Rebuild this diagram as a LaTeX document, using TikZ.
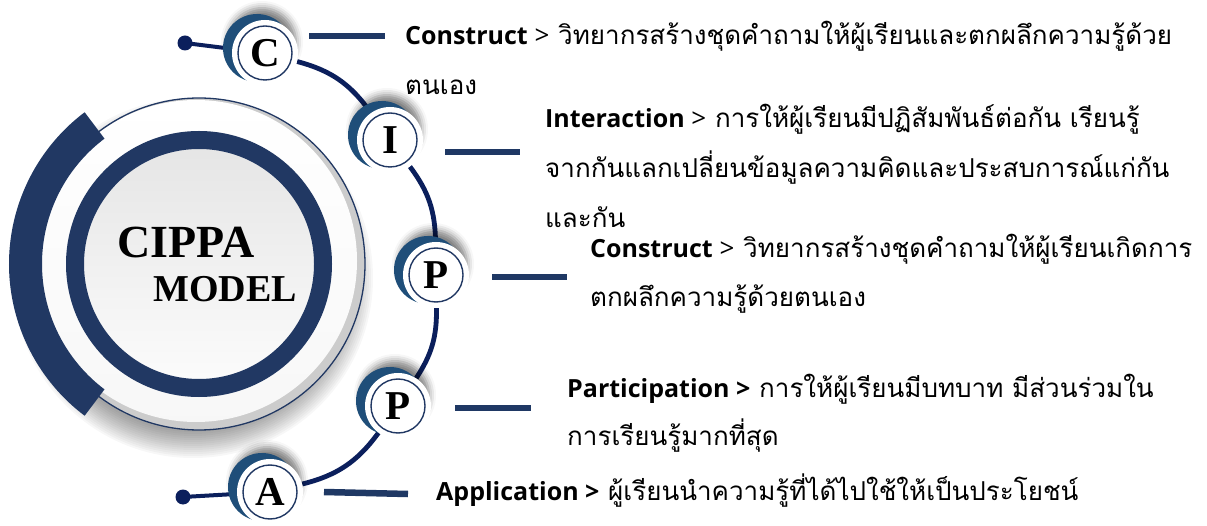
\documentclass[tikz,border=0pt]{standalone}
\usepackage{fontspec}
\setmainfont{Liberation Serif}
\newfontfamily\thai[Script=Thai]{Loma}
\newfontfamily\lat{Open Sans}
\usetikzlibrary{shadows.blur,calc}
\definecolor{navy}{HTML}{213863}
\definecolor{cres}{HTML}{1F4E79}
\definecolor{connc}{HTML}{0B1F5C}
\definecolor{barc}{HTML}{1F3864}
\pgfdeclarelayer{front}
\pgfsetlayers{main,front}
\newcommand{\en}[1]{{\fontsize{25}{25}\selectfont\lat\bfseries #1}}
\begin{document}
\begin{tikzpicture}[x=1pt,y=1pt,
  letter/.style={circle, fill=white, minimum size=66pt, inner sep=0pt, font=\fontsize{41}{41}\selectfont\bfseries},
  thinring/.style={draw=navy, line width=1.4pt},
  conn/.style={draw=connc, line width=4.8pt},
  barline/.style={draw=barc, line width=6.5pt},
  desc/.style={anchor=base west, inner sep=0pt, font=\fontsize{26}{26}\selectfont\thai},
  dotst/.style={circle, fill=connc, minimum size=15pt, inner sep=0pt},
  crescent/.style={fill=cres, blur shadow={shadow xshift=5pt, shadow yshift=6pt, shadow blur radius=7pt, shadow opacity=50}}]
\useasboundingbox (0,0) rectangle (1207,-526);
\coordinate (O) at (199,-264);
% big circle shadow (soft)
\foreach \k in {0,...,13}{
  \fill[black, opacity=0.03] ($(O)+(-6,-14)$) circle ({180-2*\k});
}
\fill[gray!40] (O) circle (166);
\shade[top color=white, bottom color=gray!6] ($(O)+(-3,3)$) circle (161);
\draw[navy, line width=1.3pt] (O) circle (166);
\fill[navy] ($(O)+(127:190)$) arc[start angle=127, end angle=233, radius=190]
  -- ($(O)+(233:157)$) arc[start angle=233, end angle=127, radius=157] -- cycle;
\shade[top color=gray!20, bottom color=gray!3] (O) circle (116);
\draw[navy, line width=18pt] (O) circle (124);
\node[anchor=base, inner sep=0pt, font=\fontsize{46}{46}\selectfont\bfseries] (cippa) at (186,-258) {CIPPA};
\node[anchor=base, inner sep=0pt, font=\fontsize{38}{38}\selectfont\bfseries] (model) at (225,-302) {MODEL};
% small nodes
\coordinate (pC) at (265,-53);
\coordinate (pI) at (390,-140);
\coordinate (pP1) at (436,-275);
\coordinate (pP2) at (398,-406);
\coordinate (pA) at (270,-492);
\begin{pgfonlayer}{front}
\foreach \p in {pC,pI,pP1,pP2,pA}{
  \fill[crescent] ($(\p)+(-8,5)$) circle (34);
}
\node[letter] (C) at (pC) {C};
\node[letter] (I) at (pI) {I};
\node[letter] (P1) at (pP1) {P};
\node[letter] (P2) at (pP2) {P};
\node[letter] (A) at (pA) {A};
\foreach \n in {C,I,P1,P2,A}{
  \draw[thinring] (\n.center) circle (27);
}
\end{pgfonlayer}
\node[dotst] (dC) at (185,-43) {};
\node[dotst] (dA) at (183,-497) {};
\draw[conn, line width=4pt] (dC.center) -- (C);
\draw[conn, line width=4pt] (dA.center) -- (A);
\draw[conn] (C) to[bend left=20] (I);
\draw[conn] (I) to[bend left=18] (P1);
\draw[conn] (P1) to[bend left=17] (P2);
\draw[conn] (P2) to[bend left=20] (A);
% bars
\coordinate (bC1) at (309,-36); \coordinate (bC2) at (385,-36);
\coordinate (bI1) at (445,-152); \coordinate (bI2) at (520,-152);
\coordinate (bP11) at (492,-277); \coordinate (bP12) at (567,-277);
\coordinate (bP21) at (455,-408); \coordinate (bP22) at (531,-408);
\coordinate (bA1) at (324,-492); \coordinate (bA2) at (408,-494);
\draw[barline] (bC1) -- (bC2);
\draw[barline] (bI1) -- (bI2);
\draw[barline] (bP11) -- (bP12);
\draw[barline] (bP21) -- (bP22);
\draw[barline] (bA1) -- (bA2);
% texts
\node[desc] (t1a) at (405,-45) {\en{Construct}{\lat{} >} วิทยากรสร้างชุดคำถามให้ผู้เรียนและตกผลึกความรู้ด้วย};
\node[desc] (t1b) at (405,-95) {ตนเอง};
\node[desc] (t2a) at (545,-128) {\en{Interaction}{\lat{} >} การให้ผู้เรียนมีปฏิสัมพันธ์ต่อกัน เรียนรู้};
\node[desc] (t2b) at (545,-178) {จากกันแลกเปลี่ยนข้อมูลความคิดและประสบการณ์แก่กัน};
\node[desc] (t2c) at (545,-228) {และกัน};
\node[desc] (t3a) at (590,-258) {\en{Construct}{\lat{} >} วิทยากรสร้างชุดคำถามให้ผู้เรียนเกิดการ};
\node[desc] (t3b) at (590,-307) {ตกผลึกความรู้ด้วยตนเอง};
\node[desc] (t4a) at (567,-397) {\en{Participation >} การให้ผู้เรียนมีบทบาท มีส่วนร่วมใน};
\node[desc] (t4b) at (567,-445) {การเรียนรู้มากที่สุด};
\node[desc] (t5a) at (436,-500) {\en{Application >} ผู้เรียนนำความรู้ที่ได้ไปใช้ให้เป็นประโยชน์};
\end{tikzpicture}
\end{document}
